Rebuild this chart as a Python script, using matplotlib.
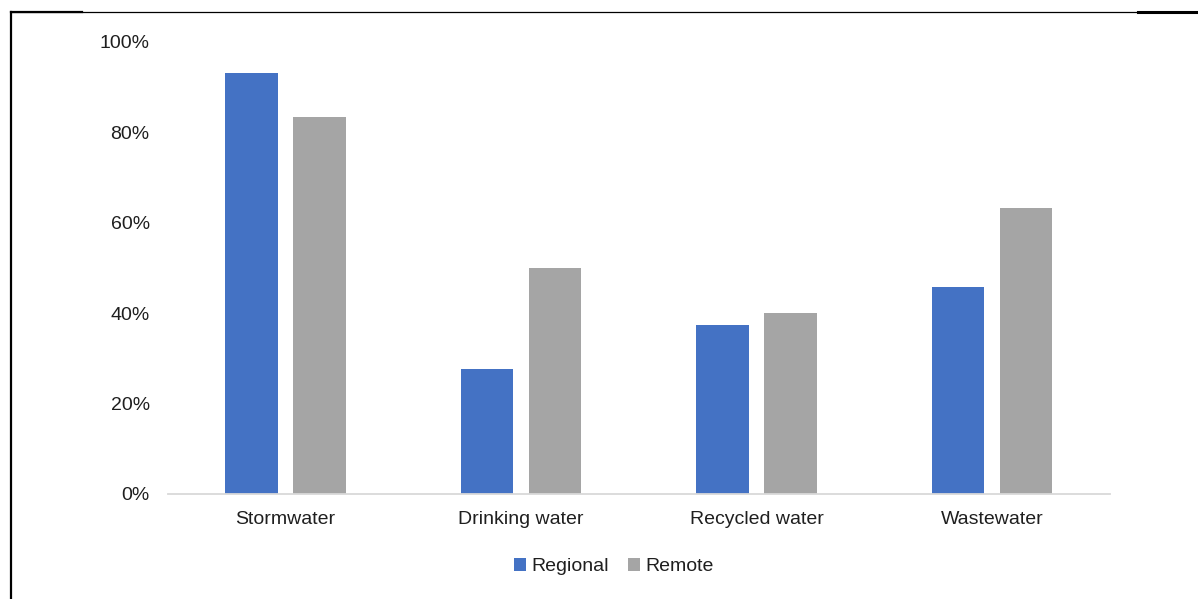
import matplotlib
matplotlib.use("Agg")
import matplotlib.pyplot as plt
from matplotlib.lines import Line2D
from matplotlib.ticker import PercentFormatter
import numpy as np

# ─── Dados ────────────────────────────────────────────────────────────────────
categories = ["Stormwater", "Drinking water", "Recycled water", "Wastewater"]
regional = [0.931, 0.277, 0.375, 0.458]
remote = [0.834, 0.500, 0.400, 0.633]
y_ticks = [0.0, 0.2, 0.4, 0.6, 0.8, 1.0]

BLUE = "#4472c4"
GREY = "#a5a5a5"
TEXT = "#1f1f1f"

plt.rcParams["font.family"] = ["Liberation Sans", "DejaVu Sans"]
plt.rcParams["font.size"] = 14

fig = plt.figure(figsize=(11.98, 5.99), dpi=100)
ax = fig.add_axes([167.75 / 1198, 1 - 494 / 599, 942 / 1198, 452 / 599])

x = np.arange(len(categories))
width = 0.225
offset = 0.1444
ax.bar(x - offset, regional, width, color=BLUE, label="Regional")
ax.bar(x + offset, remote, width, color=GREY, label="Remote")

ax.set_xlim(-0.5, len(categories) - 0.5)
ax.set_ylim(0, 1.0)
ax.set_yticks(y_ticks)
ax.yaxis.set_major_formatter(PercentFormatter(1.0, decimals=0))
ax.set_xticks(x)
ax.set_xticklabels(categories)
ax.tick_params(axis="y", length=0, pad=13, colors=TEXT)
ax.tick_params(axis="x", length=0, pad=12, colors=TEXT)

for side in ["top", "right", "left"]:
    ax.spines[side].set_visible(False)
ax.spines["bottom"].set_color("#d9d9d9")
ax.spines["bottom"].set_linewidth(1.3)

fig.legend(loc="center", bbox_to_anchor=(614 / 1198, 1 - 566.5 / 599), ncol=2,
           frameon=False, handlelength=0.62, handleheight=0.62,
           handletextpad=0.26, columnspacing=1.0, labelcolor=TEXT)

# moldura parcial (linhas do recorte original)
fy = 1 - 11.5 / 599
fx = 10.5 / 1198
fig.add_artist(Line2D([fx, 1], [fy, fy], color="black", linewidth=0.9))
fig.add_artist(Line2D([fx, 82 / 1198], [fy, fy], color="black", linewidth=1.6))
fig.add_artist(Line2D([1138 / 1198, 1], [fy, fy], color="black", linewidth=2.2))
fig.add_artist(Line2D([fx, fx], [0, fy], color="black", linewidth=1.6))

fig.savefig("out.png", dpi=100)
plt.close(fig)
